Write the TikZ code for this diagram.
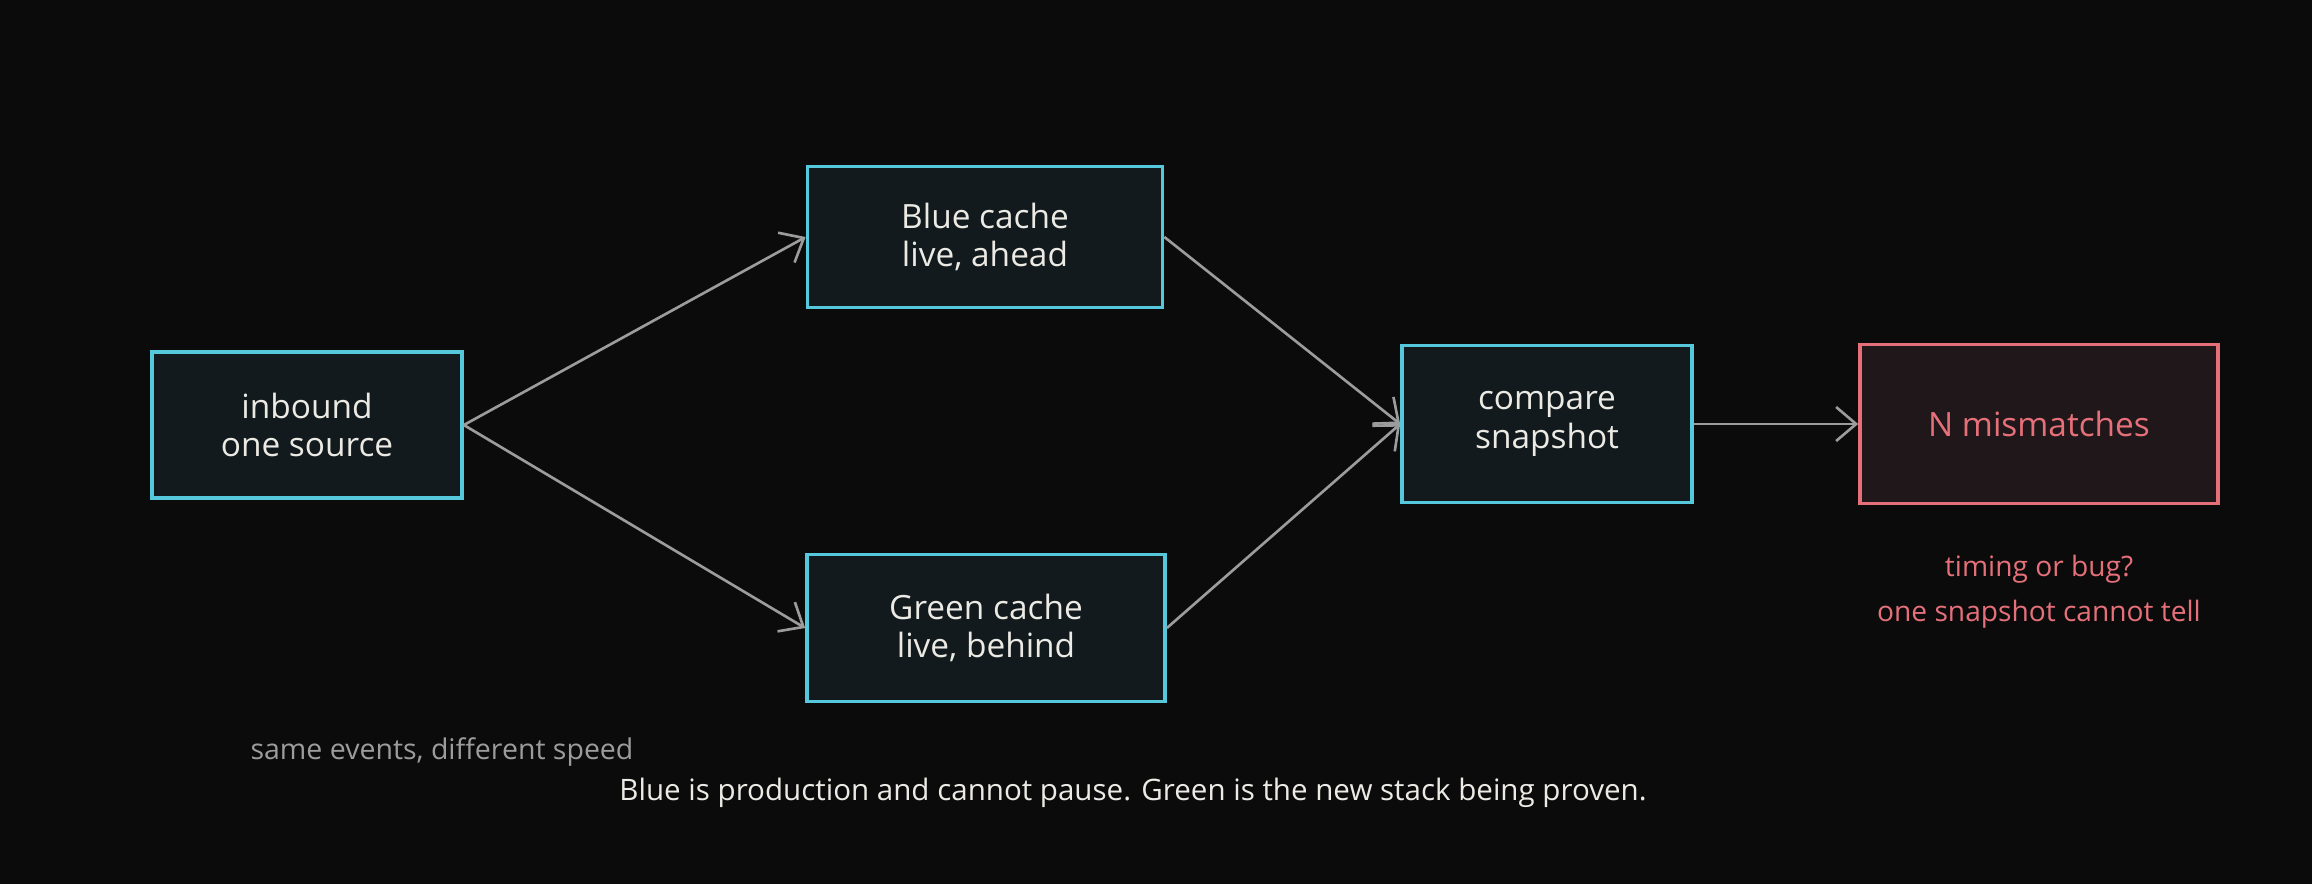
\documentclass[tikz,border=0pt]{standalone}
\usepackage{fontspec}
\setmainfont{Open Sans}
\usetikzlibrary{arrows.meta,positioning}
\definecolor{bgc}{HTML}{0B0B0B}
\definecolor{boxbg}{HTML}{121A1D}
\definecolor{cyanln}{HTML}{56C8DC}
\definecolor{redln}{HTML}{E6707A}
\definecolor{redbg}{HTML}{1F1719}
\definecolor{txt}{HTML}{ECEAE4}
\definecolor{arrc}{HTML}{9C9C9C}
\begin{document}
\begin{tikzpicture}[x=0.01cm,y=-0.01cm,font=\fontsize{9.5}{11}\selectfont,
  bx/.style={draw=cyanln,fill=boxbg,line width=1pt,align=center,text=txt,inner sep=2pt},
  badbx/.style={bx,draw=redln,fill=redbg,text=redln},
  arr/.style={-{Straight Barb[length=2mm,width=3.4mm]},draw=arrc,line width=0.75pt},
  note/.style={align=center,font=\fontsize{8}{12.8}\selectfont}]
  \fill[bgc] (0,0) rectangle (2312,884);
  \node[bx,minimum width=3.1cm,minimum height=1.46cm](inb) at (307,425){inbound\\one source};
  \node[bx,minimum width=3.55cm,minimum height=1.41cm](blue) at (985,237){Blue cache\\live, ahead};
  \node[bx,minimum width=3.58cm,minimum height=1.47cm](green) at (986,628){Green cache\\live, behind};
  \node[bx,minimum width=2.9cm,minimum height=1.57cm](cmp) at (1547,424){compare\\snapshot};
  \node[badbx,minimum width=3.58cm,minimum height=1.59cm](mis) at (2039,424){N mismatches};
  \node[note,text=redln](why) at (2039,592){timing or bug?\\one snapshot cannot tell};
  \node[note,text=arrc,font=\fontsize{8.1}{9}\selectfont](same) at (442,752){same events, different speed};
  \node[note,text=txt,font=\fontsize{8.4}{10}\selectfont](cap) at (1133,793){Blue is production and cannot pause. Green is the new stack being proven.};
  \draw[arr](inb.east)--(blue.west);\draw[arr](inb.east)--(green.west);
  \draw[arr](blue.east)--(cmp.west);\draw[arr](green.east)--(cmp.west);
  \draw[arr](cmp.east)--(mis.west);
\end{tikzpicture}
\end{document}
